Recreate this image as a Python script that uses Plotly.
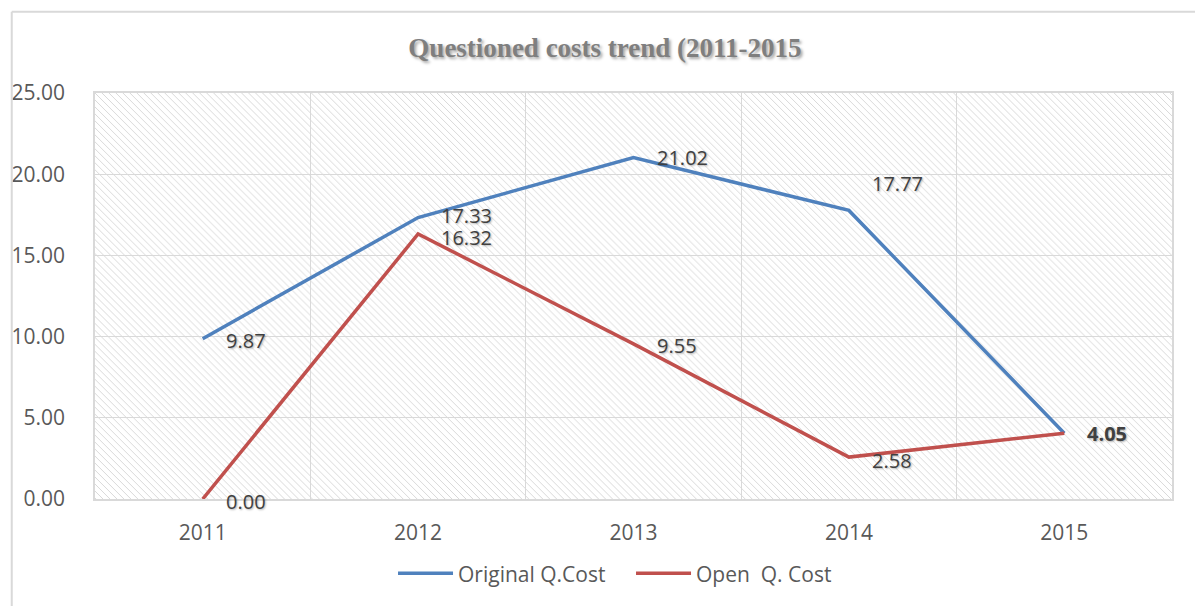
import base64
import plotly.graph_objects as go

years = ["2011", "2012", "2013", "2014", "2015"]
original_q_cost = [9.87, 17.33, 21.02, 17.77, 4.05]
open_q_cost = [0.00, 16.32, 9.55, 2.58, 4.05]
series_names = ["Original Q.Cost", "Open\u00a0 Q. Cost"]
y_ticks = [0, 5, 10, 15, 20, 25]

title_text = "Questioned costs trend (2011-2015"

BLUE = "#4F81BD"
RED = "#C0504D"
GRID = "#d9d9d9"
TXT = "#595959"
LBL = "#404040"

fig = go.Figure()
fig.add_trace(go.Scatter(x=years, y=original_q_cost, mode="lines", name=series_names[0],
                         line=dict(color=BLUE, width=3.5), hoverinfo="x+y"))
fig.add_trace(go.Scatter(x=years, y=open_q_cost, mode="lines", name=series_names[1],
                         line=dict(color=RED, width=3.5), hoverinfo="x+y"))

# data labels (Excel-like "right" placement); x given as category index
label_yshift_orig = [-2, 2, 0, 27, 0]
label_yshift_open = [-2, -4, -2, -3, 0]
label_font = dict(family="Open Sans", size=20, color=LBL, shadow="1px 1px 2px rgba(0,0,0,0.3)")
for i, v in enumerate(original_q_cost):
    bold = i == len(years) - 1
    fig.add_annotation(x=i, y=v, xref="x", yref="y",
                       text=f"<b>{v:.2f}</b>" if bold else f"{v:.2f}",
                       showarrow=False, xanchor="left", yanchor="middle",
                       xshift=21, yshift=label_yshift_orig[i], font=label_font)
for i, v in enumerate(open_q_cost):
    if i == len(years) - 1:
        continue  # coincides with the Original label
    fig.add_annotation(x=i, y=v, xref="x", yref="y", text=f"{v:.2f}",
                       showarrow=False, xanchor="left", yanchor="middle",
                       xshift=21, yshift=label_yshift_open[i], font=label_font)

# hatched plot background
W, H = 1080, 407
svg = (f'<svg xmlns="http://www.w3.org/2000/svg" width="{W}" height="{H}" viewBox="0 0 {W} {H}">'
       '<defs><pattern id="p" width="7" height="7" patternUnits="userSpaceOnUse">'
       '<path d="M0,0 L7,7 M-1,6 L1,8 M6,-1 L8,1" stroke="#d9d9d9" stroke-width="1"/>'
       '</pattern></defs>'
       f'<rect width="{W}" height="{H}" fill="url(#p)"/></svg>')
src = "data:image/svg+xml;base64," + base64.b64encode(svg.encode()).decode()
fig.add_layout_image(source=src, xref="paper", yref="paper", x=0, y=1, sizex=1, sizey=1,
                     xanchor="left", yanchor="top", sizing="stretch", layer="below")

# outer chart border (left and top only visible)
fig.add_shape(type="line", xref="paper", yref="paper", x0=-0.0773, x1=-0.0773, y0=-0.27, y1=1.2002,
              line=dict(color=GRID, width=2))
fig.add_shape(type="line", xref="paper", yref="paper", x0=-0.0773, x1=1.03, y0=1.2002, y1=1.2002,
              line=dict(color=GRID, width=2))

fig.update_layout(
    width=1195, height=606,
    margin=dict(l=92, r=23, t=93, b=106),
    paper_bgcolor="white", plot_bgcolor="white",
    title=dict(text=f"<b>{title_text}</b>", x=605 / 1195, xref="container", xanchor="center",
               y=1 - 48 / 606, yref="container", yanchor="middle",
               font=dict(family="Liberation Serif", size=27, color="#7f7f7f",
                         shadow="2px 2px 3px rgba(0,0,0,0.35)")),
    legend=dict(orientation="h", x=0.4977, xanchor="center", y=-0.184, yanchor="middle",
                font=dict(family="Open Sans", size=21, color=TXT), itemwidth=55,
                entrywidth=168, entrywidthmode="pixels"),
    xaxis=dict(type="category", tickson="boundaries", showgrid=True, gridcolor=GRID, gridwidth=1,
               showline=True, linecolor=GRID, linewidth=1.5, mirror=True, ticks="", ticklen=0,
               tickfont=dict(family="Open Sans", size=21, color=TXT), ticklabelstandoff=14,
               range=[-0.5, 4.5]),
    yaxis=dict(range=[0, 25], tickvals=y_ticks, tickformat=".2f", showgrid=True, gridcolor=GRID,
               gridwidth=1, zeroline=False, showline=True, linecolor=GRID, linewidth=1.5, mirror=True,
               ticks="", tickfont=dict(family="Open Sans", size=21, color=TXT), ticklabelstandoff=24),
    showlegend=True,
)

fig.write_html("out.html", post_script="document.body.style.margin='0';",
               config={"displayModeBar": False})
